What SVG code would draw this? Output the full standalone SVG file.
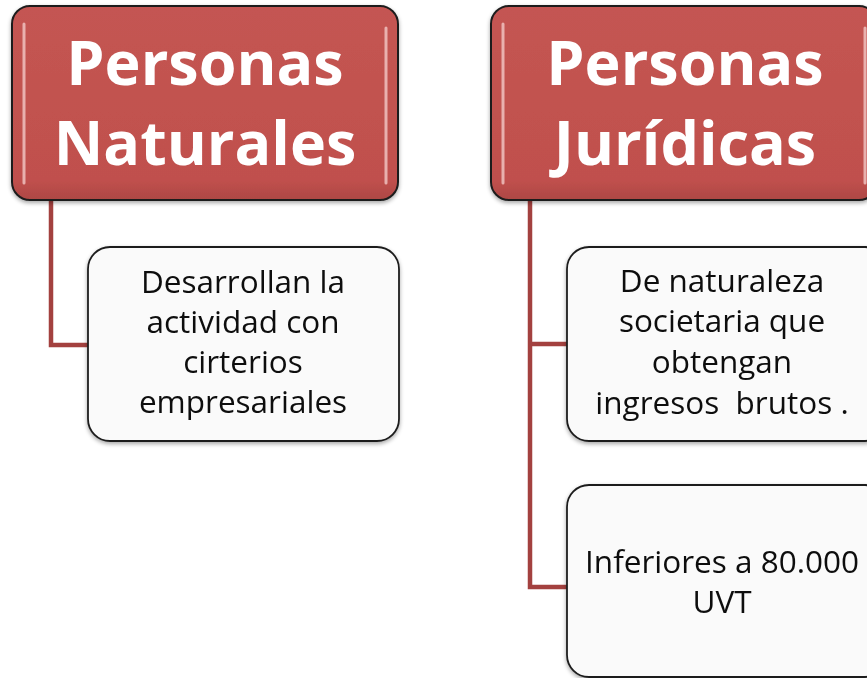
<svg xmlns="http://www.w3.org/2000/svg" width="867" height="678" viewBox="0 0 867 678">
<style>
.head rect.base{fill:#C0504D;stroke:#1e1e1e;stroke-width:2}
.hl{stroke:#f6d0ce;stroke-width:3;stroke-linecap:round;opacity:.75}
.ht{font-family:"Open Sans","Noto Sans",sans-serif;font-weight:bold;font-size:61px;fill:#fff;text-anchor:middle}
.child rect{fill:#fafafa;stroke:#1e1e1e;stroke-width:1.8}
.ct{font-family:"Open Sans","Noto Sans",sans-serif;font-size:31.5px;fill:#111;text-anchor:middle;white-space:pre}
.conn{fill:none;stroke:#A3413F;stroke-width:4.5}
</style>
<defs>
<linearGradient id="hg" x1="0" y1="0" x2="0" y2="1">
<stop offset="0" stop-color="#c45552"/>
<stop offset="0.9" stop-color="#c0504d"/>
<stop offset="1" stop-color="#ad4744"/>
</linearGradient>
<filter id="sh" x="-10%" y="-10%" width="120%" height="130%">
<feGaussianBlur in="SourceAlpha" stdDeviation="2"/>
<feOffset dx="0" dy="2" result="b"/>
<feComponentTransfer><feFuncA type="linear" slope="0.35"/></feComponentTransfer>
<feMerge><feMergeNode/><feMergeNode in="SourceGraphic"/></feMerge>
</filter>
</defs>
<rect width="867" height="678" fill="#fff"/>
<g id="connectors">
<path class="conn" d="M51 198 V345 H90"/>
<path class="conn" d="M530 198 V587 H569 M530 344 H569"/>
</g>
<g id="n1" class="head" filter="url(#sh)">
<rect class="base" x="12" y="6" width="386" height="194" rx="18" style="fill:url(#hg)"/>
<line class="hl" x1="24" y1="24" x2="24" y2="183"/>
<line class="hl" x1="386" y1="28" x2="386" y2="183"/>
<text class="ht" x="205" y="85">Personas</text>
<text class="ht" x="205" y="165">Naturales</text>
</g>
<g id="n2" class="head" filter="url(#sh)">
<rect class="base" x="491" y="6" width="386" height="194" rx="18" style="fill:url(#hg)"/>
<line class="hl" x1="503" y1="24" x2="503" y2="183"/>
<line class="hl" x1="865" y1="28" x2="865" y2="183"/>
<text class="ht" x="685" y="85">Personas</text>
<text class="ht" x="685" y="165">Jurídicas</text>
</g>
<g id="n3" class="child" filter="url(#sh)">
<rect x="88" y="247" width="311" height="194" rx="22"/>
<text class="ct" x="243" y="293">Desarrollan la</text>
<text class="ct" x="243" y="333">actividad con</text>
<text class="ct" x="243" y="373">cirterios</text>
<text class="ct" x="243" y="413">empresariales</text>
</g>
<g id="n4" class="child" filter="url(#sh)">
<rect x="567" y="247" width="320" height="194" rx="22"/>
<text class="ct" x="722" y="292">De naturaleza</text>
<text class="ct" x="722" y="332">societaria que</text>
<text class="ct" x="722" y="373">obtengan</text>
<text class="ct" x="722" y="414" xml:space="preserve">ingresos  brutos .</text>
</g>
<g id="n5" class="child" filter="url(#sh)">
<rect x="567" y="485" width="320" height="192" rx="22"/>
<text class="ct" x="722" y="573">Inferiores a 80.000</text>
<text class="ct" x="722" y="613">UVT</text>
</g>
</svg>
